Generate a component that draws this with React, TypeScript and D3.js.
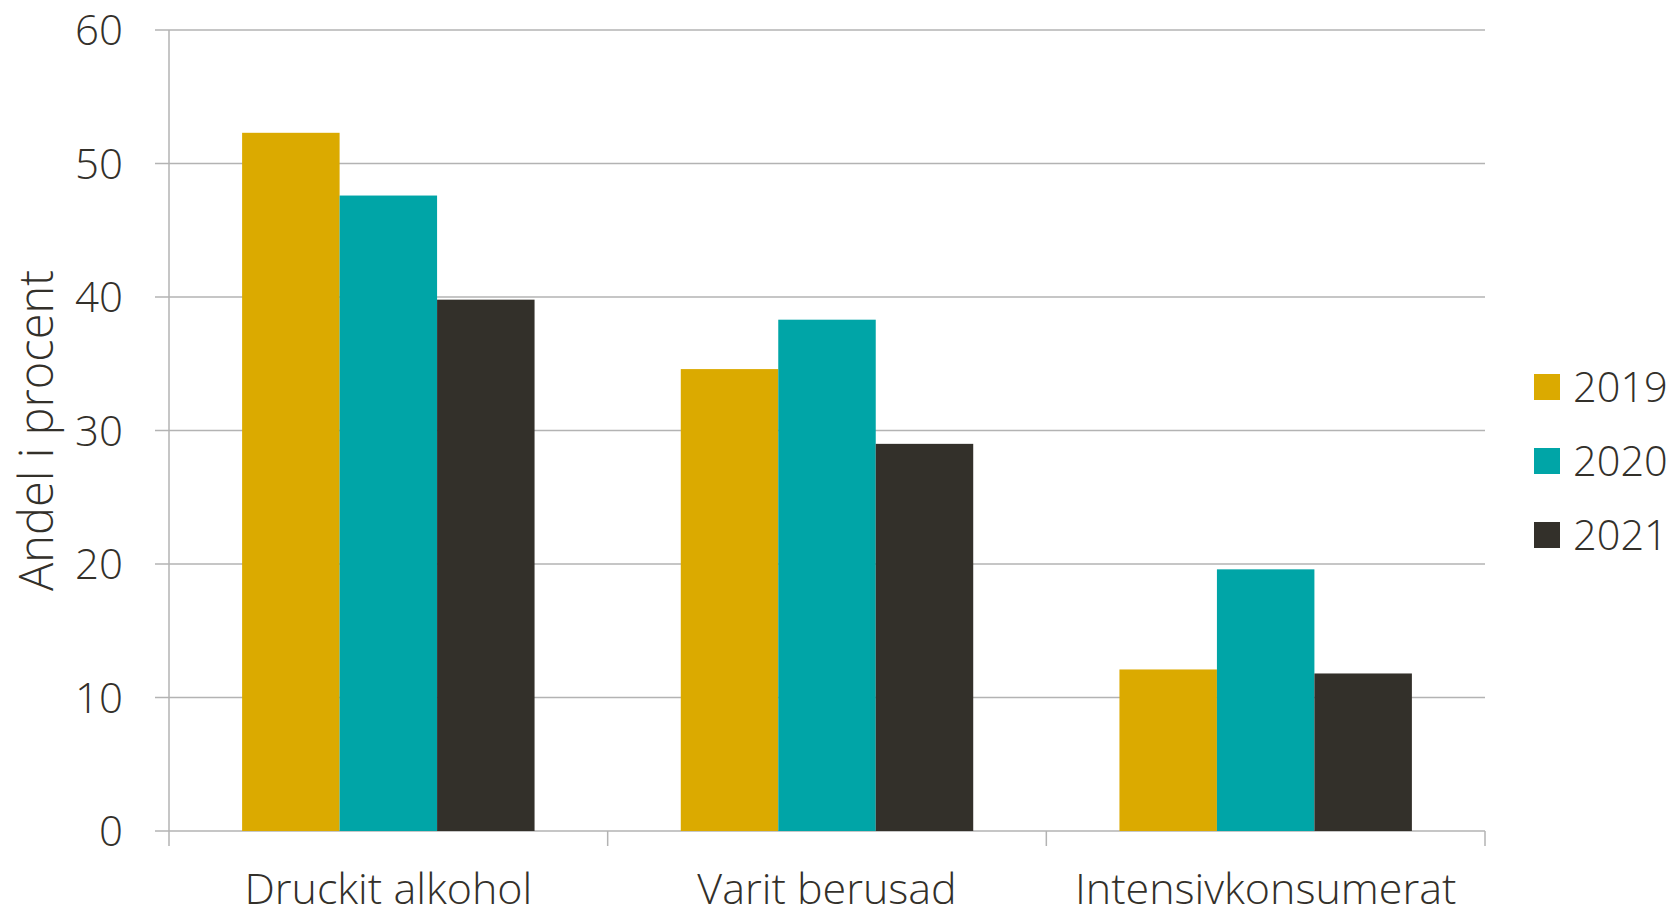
import React from "react";
import * as d3 from "d3";

const categories = ["Druckit alkohol", "Varit berusad", "Intensivkonsumerat"];
const years = ["2019", "2020", "2021"];
const values2019 = [52.3, 34.6, 12.1];
const values2020 = [47.6, 38.3, 19.6];
const values2021 = [39.8, 29.0, 11.8];
const yTicks = [0, 10, 20, 30, 40, 50, 60];
const colors = ["#DBAA00", "#00A5A7", "#33302A"];
const yTitle = "Andel i procent";

const series = [values2019, values2020, values2021];

const W = 1675;
const H = 914;
const left = 169;
const right = 1485;
const top = 30;
const bottom = 831;
const FONT = "'Open Sans', sans-serif";
const TEXT = "#33302A";
const GRID = "#B3B3B3";

export default function App() {
  const x = d3.scaleBand<string>().domain(categories).range([left, right]).paddingInner(0).paddingOuter(0);
  const y = d3.scaleLinear().domain([0, 60]).range([bottom, top]);

  // bar width so that gap between clusters = 1.5 * bar width (split on both sides)
  const bw = x.bandwidth() / 4.5;
  const offset = 0.75 * bw;

  return (
    <div style={{ margin: -8 }}>
      <svg width={W} height={H} style={{ display: "block", background: "#fff" }} fontFamily={FONT}>
        {yTicks.map((t) => (
          <g key={t}>
            <line x1={155} x2={right} y1={y(t)} y2={y(t)} stroke={GRID} strokeWidth={1.5} />
            <text x={123} y={y(t)} dy="0.36em" textAnchor="end" fontSize={42} fontWeight={300} fill={TEXT}>
              {t}
            </text>
          </g>
        ))}
        <line x1={left} x2={left} y1={top} y2={bottom + 15} stroke={GRID} strokeWidth={1.5} />
        {categories.map((c, i) => (
          <line key={"tk" + i} x1={x(c)! + x.bandwidth()} x2={x(c)! + x.bandwidth()} y1={bottom} y2={bottom + 15} stroke={GRID} strokeWidth={1.5} />
        ))}
        {categories.map((c, ci) =>
          years.map((yr, si) => {
            const v = series[si][ci];
            return (
              <rect
                key={c + yr}
                x={x(c)! + offset + si * bw}
                y={y(v)}
                width={bw}
                height={y(0) - y(v)}
                fill={colors[si]}
              />
            );
          })
        )}
        {categories.map((c) => (
          <text key={"cl" + c} x={x(c)! + x.bandwidth() / 2} y={904} textAnchor="middle" fontSize={43} fontWeight={300} fill={TEXT}>
            {c}
          </text>
        ))}
        <text transform={`translate(53,${(top + bottom) / 2}) rotate(-90)`} textAnchor="middle" fontSize={47} fontWeight={300} fill={TEXT}>
          {yTitle}
        </text>
        {years.map((yr, i) => {
          const cy = 387 + i * 74;
          return (
            <g key={"lg" + yr}>
              <rect x={1534} y={cy - 13} width={26} height={26} fill={colors[i]} />
              <text x={1573} y={cy} dy="0.36em" fontSize={41.5} fontWeight={300} fill={TEXT}>
                {yr}
              </text>
            </g>
          );
        })}
      </svg>
    </div>
  );
}
